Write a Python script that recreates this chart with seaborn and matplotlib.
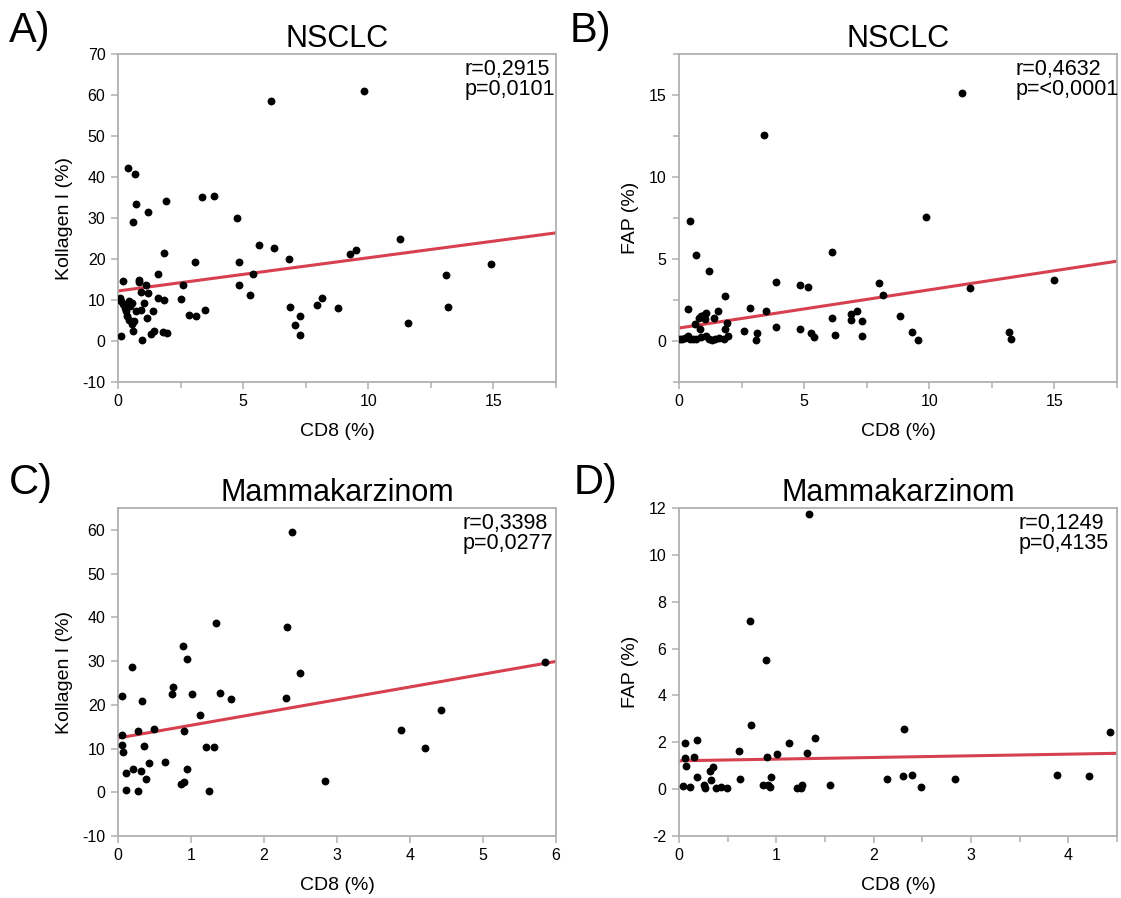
import matplotlib
matplotlib.use('Agg')
import matplotlib.pyplot as plt
import seaborn as sns
from matplotlib.ticker import MultipleLocator

sns.set(style='white')
plt.rcParams['font.family'] = ['Liberation Sans', 'DejaVu Sans']
plt.rcParams['axes.unicode_minus'] = False
plt.rcParams['text.color'] = 'black'
plt.rcParams['axes.labelcolor'] = 'black'

# NSCLC: CD8 vs Kollagen I
nsclc_cd8_a = [6.10, 9.83, 0.40, 0.69, 0.73, 1.21, 0.58, 1.90, 3.37, 3.85, 4.77, 1.85, 3.08, 4.82,
               5.62, 6.23, 6.84, 5.38, 4.82, 5.27, 9.27, 9.52, 11.27, 14.91, 13.12, 13.20, 11.59,
               6.87, 7.08, 7.29, 7.28, 7.97, 8.15, 8.78, 1.61, 2.59, 2.50, 2.84, 3.11, 3.49, 0.19,
               0.84, 0.84, 1.10, 0.92, 1.18, 1.58, 1.85, 1.05, 0.72, 0.93, 1.39, 1.14, 0.65, 0.54,
               0.58, 1.33, 1.45, 1.81, 1.95, 0.96, 0.12, 0.12, 0.18, 0.45, 0.54, 0.48, 0.28, 0.32,
               0.35, 0.43, 0.08]
nsclc_kollagen = [58.5, 60.9, 42.3, 40.7, 33.4, 31.5, 29.0, 34.1, 35.0, 35.4, 29.9, 21.4, 19.3, 19.3,
                  23.3, 22.6, 19.9, 16.3, 13.7, 11.1, 21.1, 22.2, 25.0, 18.7, 16.0, 8.2, 4.4,
                  8.4, 3.8, 6.1, 1.4, 8.9, 10.6, 8.0, 16.3, 13.6, 10.2, 6.3, 6.1, 7.5, 14.6,
                  15.0, 14.3, 13.7, 11.9, 11.6, 10.4, 10.0, 9.2, 7.4, 7.5, 7.3, 5.6, 4.9, 4.1,
                  2.5, 1.6, 2.4, 2.3, 1.9, 0.2, 1.1, 9.8, 9.0, 9.8, 9.3, 8.5, 8.0, 7.2,
                  6.2, 5.2, 10.5]

# NSCLC: CD8 vs FAP
nsclc_cd8_b = [11.32, 3.38, 0.45, 9.87, 0.68, 6.11, 1.20, 3.86, 4.82, 5.15, 7.98, 8.16, 11.63, 14.97,
               1.83, 2.84, 3.48, 0.37, 1.56, 1.09, 0.88, 1.01, 0.80, 1.05, 1.39, 1.90, 0.65, 6.13,
               6.86, 7.10, 6.88, 7.30, 8.81, 3.87, 4.82, 2.59, 3.10, 3.08, 5.27, 5.38, 6.25, 7.33,
               9.31, 9.56, 13.18, 13.26, 0.83, 1.83, 1.96, 1.80, 0.05, 0.13, 0.24, 0.36, 0.45,
               0.56, 0.69, 0.89, 1.09, 1.20, 1.31, 1.42, 1.60]
nsclc_fap = [15.14, 12.54, 7.32, 7.56, 5.26, 5.43, 4.27, 3.60, 3.39, 3.27, 3.56, 2.83, 3.21, 3.70,
             2.76, 1.99, 1.83, 1.93, 1.83, 1.73, 1.52, 1.59, 1.42, 1.36, 1.42, 1.12, 1.02, 1.40,
             1.63, 1.83, 1.26, 1.20, 1.52, 0.87, 0.71, 0.61, 0.49, 0.04, 0.51, 0.24, 0.39, 0.28,
             0.57, 0.06, 0.57, 0.12, 0.71, 0.71, 0.30, 0.14, 0.10, 0.14, 0.16, 0.30, 0.14,
             0.10, 0.14, 0.24, 0.30, 0.10, 0.04, 0.10, 0.20]

# Mammakarzinom: CD8 vs Kollagen I
mamma_cd8_c = [2.39, 1.34, 2.32, 0.89, 0.94, 0.19, 2.49, 5.85, 0.05, 0.75, 0.74, 1.02, 1.40, 1.55,
               2.30, 0.33, 1.13, 4.43, 3.88, 4.21, 0.06, 0.27, 0.49, 0.91, 0.06, 0.07, 0.35, 1.21,
               1.32, 0.43, 0.64, 0.20, 0.11, 0.32, 0.95, 0.39, 0.86, 0.91, 2.84, 0.11, 0.27, 1.25]
mamma_kollagen = [59.6, 38.8, 37.8, 33.5, 30.4, 28.6, 27.2, 29.9, 21.9, 24.0, 22.5, 22.5, 22.7, 21.3,
                  21.5, 20.9, 17.6, 18.7, 14.2, 10.1, 13.2, 13.9, 14.5, 13.9, 10.7, 9.2, 10.5, 10.3,
                  10.3, 6.8, 6.9, 5.3, 4.5, 4.8, 5.3, 3.1, 1.8, 2.3, 2.5, 0.45, 0.4, 0.2]

# Mammakarzinom: CD8 vs FAP
mamma_cd8_d = [1.34, 0.73, 0.89, 0.74, 2.31, 4.43, 1.40, 0.06, 0.19, 1.13, 0.62, 1.31, 1.01, 0.90,
               0.15, 0.06, 0.07, 0.35, 0.32, 0.19, 0.33, 0.63, 0.95, 2.14, 2.30, 2.39, 2.84, 3.88,
               4.21, 2.49, 1.55, 0.86, 0.91, 0.93, 1.26, 1.21, 1.25, 0.04, 0.11, 0.26, 0.27, 0.38,
               0.43, 0.49]
mamma_fap = [11.73, 7.16, 5.51, 2.74, 2.56, 2.44, 2.17, 1.98, 2.08, 1.95, 1.63, 1.55, 1.48, 1.38,
             1.38, 1.33, 0.99, 0.95, 0.79, 0.53, 0.39, 0.44, 0.53, 0.45, 0.56, 0.60, 0.42, 0.62,
             0.58, 0.10, 0.19, 0.16, 0.18, 0.08, 0.16, 0.03, 0.05, 0.15, 0.10, 0.17, 0.04, 0.05,
             0.11, 0.06]

# fitted lines (intercept, slope)
fit_intercepts = [12.2, 0.79, 12.4, 1.21]
fit_slopes = [0.81, 0.233, 2.92, 0.071]

stats = ['r=0,2915\np=0,0101', 'r=0,4632\np=<0,0001', 'r=0,3398\np=0,0277', 'r=0,1249\np=0,4135']

fig = plt.figure(figsize=(11.21, 8.98), dpi=100)
w, h = 438 / 1121, 328 / 898
axA = fig.add_axes([118 / 1121, 516 / 898, w, h])
axB = fig.add_axes([679 / 1121, 516 / 898, w, h])
axC = fig.add_axes([118 / 1121, 62 / 898, w, h])
axD = fig.add_axes([679 / 1121, 62 / 898, w, h])

panels = [
    (axA, nsclc_cd8_a, nsclc_kollagen, 'NSCLC', 'Kollagen I (%)', (0, 17.5), (-10, 70), 5, 2.5, 10, None, 0.792),
    (axB, nsclc_cd8_b, nsclc_fap, 'NSCLC', 'FAP (%)', (0, 17.5), (-2.5, 17.5), 5, 2.5, 5, 2.5, 0.769),
    (axC, mamma_cd8_c, mamma_kollagen, 'Mammakarzinom', 'Kollagen I (%)', (0, 6), (-10, 65), 1, None, 10, None, 0.787),
    (axD, mamma_cd8_d, mamma_fap, 'Mammakarzinom', 'FAP (%)', (0, 4.5), (-2, 12), 1, 0.5, 2, None, 0.776),
]

grey = '#b0b0b0'
for i, (ax, x, y, title, ylab, xl, yl, xmaj, xmin, ymaj, ymin, tx) in enumerate(panels):
    sns.scatterplot(x=x, y=y, ax=ax, s=32, color='black', linewidth=0, zorder=3)
    ax.axline((0, fit_intercepts[i]), slope=fit_slopes[i], color='#d6404f', lw=2.2, zorder=2)
    ax.set_xlim(xl)
    ax.set_ylim(yl)
    ax.xaxis.set_major_locator(MultipleLocator(xmaj))
    ax.yaxis.set_major_locator(MultipleLocator(ymaj))
    if xmin:
        ax.xaxis.set_minor_locator(MultipleLocator(xmin))
    if ymin:
        ax.yaxis.set_minor_locator(MultipleLocator(ymin))
    for s in ax.spines.values():
        s.set_color(grey)
        s.set_linewidth(1.3)
    ax.tick_params(which='major', length=5, width=1.1, color=grey, labelsize=11.5,
                   labelcolor='black', pad=4, bottom=True, left=True)
    ax.tick_params(which='minor', length=4, width=1.1, color=grey, bottom=True, left=True)
    ax.set_title(title, fontsize=22, pad=5)
    ax.set_xlabel('CD8 (%)', fontsize=14, labelpad=10)
    ax.set_ylabel(ylab, fontsize=14, labelpad=7)
    ax.text(tx, 0.985, stats[i], transform=ax.transAxes, ha='left', va='top',
            fontsize=15.5, linespacing=0.92)

fig.text(0.008, 0.988, 'A)', fontsize=30, va='top')
fig.text(0.508, 0.988, 'B)', fontsize=30, va='top')
fig.text(0.008, 0.484, 'C)', fontsize=30, va='top')
fig.text(0.512, 0.484, 'D)', fontsize=30, va='top')

fig.savefig('out.png', dpi=100)
